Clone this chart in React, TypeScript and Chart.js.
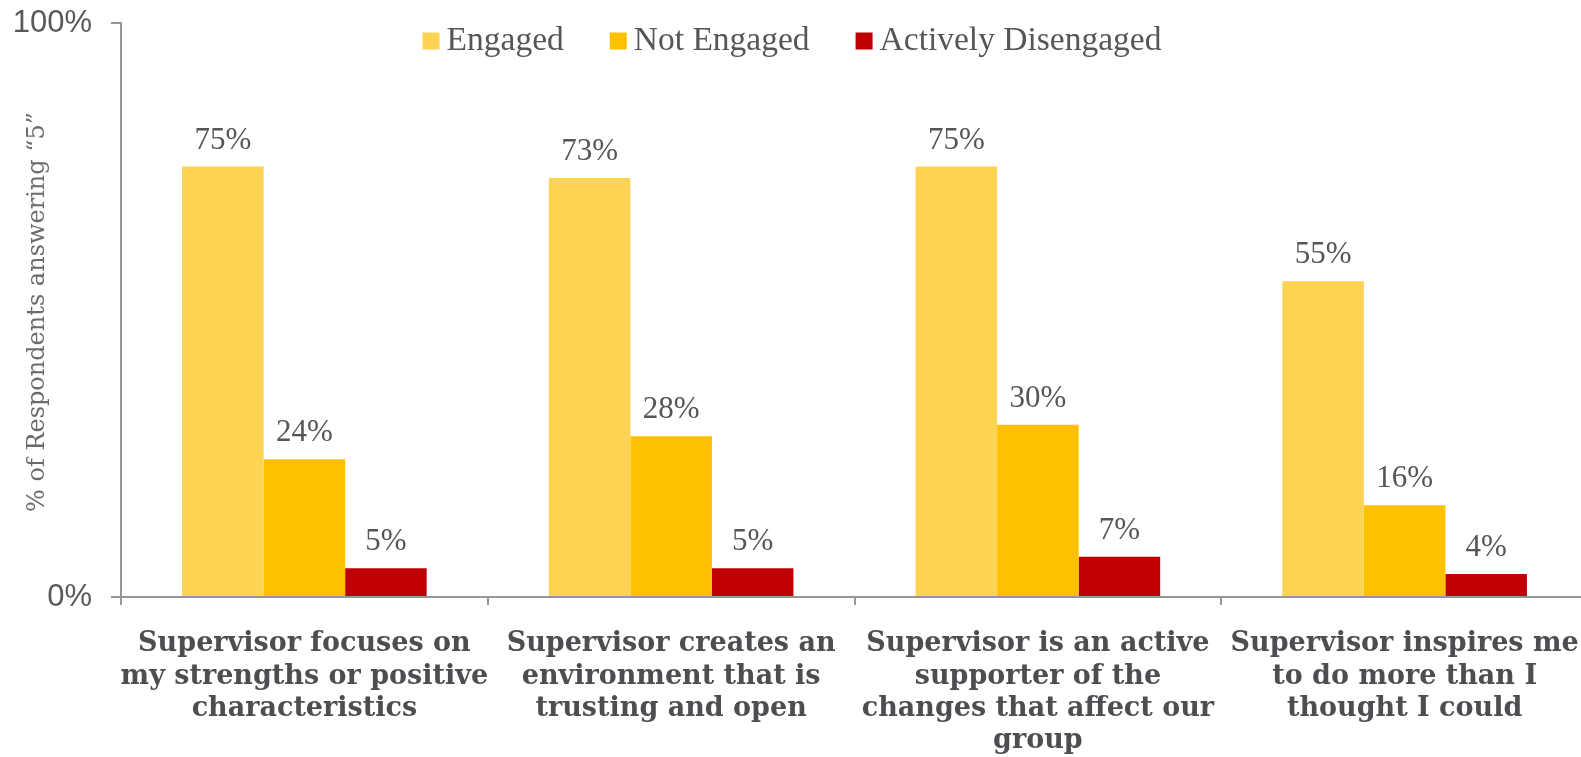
import { useEffect, useRef } from "react";
import { Chart, registerables } from "chart.js";

Chart.register(...registerables);

const categories: string[][] = [
  ["Supervisor focuses on", "my strengths or positive", "characteristics"],
  ["Supervisor creates an", "environment that is", "trusting and open"],
  ["Supervisor is an active", "supporter of the", "changes that affect our", "group"],
  ["Supervisor inspires me", "to do more than I", "thought I could"],
];
const seriesNames = ["Engaged", "Not Engaged", "Actively Disengaged"];
const engaged = [75, 73, 75, 55];
const notEngaged = [24, 28, 30, 16];
const activelyDisengaged = [5, 5, 7, 4];
const yTickValues = [0, 100];
const yTitle = "% of Respondents answering \u201C5\u201D";

const seriesColors = ["#FDD353", "#FFC000", "#C00000"];
const axisColor = "#969696";
const textColor = "#55565a";

const valueLabelPlugin = {
  id: "valueLabels",
  afterDatasetsDraw(chart: any) {
    const ctx = chart.ctx;
    ctx.save();
    ctx.font = '31px "Liberation Serif"';
    ctx.fillStyle = textColor;
    ctx.textAlign = "center";
    ctx.textBaseline = "alphabetic";
    chart.data.datasets.forEach((ds: any, di: number) => {
      const meta = chart.getDatasetMeta(di);
      meta.data.forEach((el: any, i: number) => {
        ctx.fillText(`${ds.data[i]}%`, el.x, el.y - 18);
      });
    });
    ctx.restore();
  },
};

const legendPlugin = {
  id: "customLegend",
  afterDraw(chart: any) {
    const ctx = chart.ctx;
    ctx.save();
    ctx.font = '33.5px "Liberation Serif"';
    const boxW = 17;
    const boxH = 17;
    const gap = 7;
    const spacing = 46;
    const items = chart.data.datasets.map((ds: any) => ({
      text: ds.label,
      color: ds.backgroundColor,
      w: ctx.measureText(ds.label).width,
    }));
    const total =
      items.reduce((s: number, it: any) => s + boxW + gap + it.w, 0) +
      spacing * (items.length - 1);
    let x = 792 - total / 2;
    const baseline = 49.5;
    items.forEach((it: any) => {
      ctx.fillStyle = it.color;
      ctx.fillRect(x, baseline - boxH, boxW, boxH);
      x += boxW + gap;
      ctx.fillStyle = textColor;
      ctx.textAlign = "left";
      ctx.textBaseline = "alphabetic";
      ctx.fillText(it.text, x, baseline);
      x += it.w + spacing;
    });
    ctx.restore();
  },
};

const yTitlePlugin = {
  id: "yTitle",
  afterDraw(chart: any) {
    const ctx = chart.ctx;
    ctx.save();
    ctx.font = '24px "DejaVu Serif"';
    (ctx as any).letterSpacing = "0px";
    const natural = ctx.measureText(yTitle).width;
    const target = 387;
    const extra = Math.max(0, (target - natural) / (yTitle.length - 1));
    (ctx as any).letterSpacing = `${extra}px`;
    ctx.translate(38, 512);
    ctx.rotate(-Math.PI / 2);
    ctx.fillStyle = "#6a6b6e";
    ctx.textAlign = "left";
    ctx.textBaseline = "middle";
    ctx.fillText(yTitle, 0, 0);
    ctx.restore();
  },
};

export default function App() {
  const ref = useRef<HTMLCanvasElement>(null);
  useEffect(() => {
    document.body.style.margin = "0";
    const seriesData = [engaged, notEngaged, activelyDisengaged];
    const chart = new Chart(ref.current as HTMLCanvasElement, {
      type: "bar",
      data: {
        labels: categories as any,
        datasets: seriesNames.map((name, i) => ({
          label: name,
          data: seriesData[i],
          backgroundColor: seriesColors[i],
          borderWidth: 0,
          categoryPercentage: 0.667,
          barPercentage: 1,
        })),
      },
      options: {
        responsive: false,
        animation: false,
        devicePixelRatio: 1,
        layout: { padding: { top: 23, right: 12, left: 0, bottom: 0 } },
        plugins: {
          legend: { display: false },
          tooltip: { enabled: false },
          title: { display: false },
        },
        scales: {
          x: {
            grid: {
              offset: true,
              drawOnChartArea: false,
              drawTicks: true,
              tickLength: 8,
              color: axisColor,
              lineWidth: 2,
            },
            border: { display: true, color: axisColor, width: 2 },
            ticks: {
              font: { family: "DejaVu Serif", size: 27, weight: "bold", lineHeight: 1.2 },
              color: "#4d4e52",
              padding: 23,
              maxRotation: 0,
              autoSkip: false,
            },
            afterFit: (s: any) => {
              s.height = 160;
              s.paddingLeft = 0;
              s.paddingRight = 0;
              s.paddingTop = 0;
              s.paddingBottom = 0;
            },
          },
          y: {
            min: 0,
            max: 100,
            grid: {
              drawOnChartArea: false,
              drawTicks: true,
              tickLength: 10,
              color: axisColor,
              lineWidth: 2,
            },
            border: { display: true, color: axisColor, width: 2 },
            ticks: {
              callback: (v: any) => `${v}%`,
              font: { family: "Liberation Sans", size: 31 },
              color: "#58595b",
              padding: 19,
            },
            afterBuildTicks: (s: any) => {
              s.ticks = yTickValues.map((v) => ({ value: v }));
            },
            afterFit: (s: any) => {
              s.width = 121;
              s.paddingTop = 0;
              s.paddingBottom = 0;
              s.paddingLeft = 0;
              s.paddingRight = 0;
            },
          },
        },
      } as any,
      plugins: [valueLabelPlugin, legendPlugin, yTitlePlugin],
    });
    return () => chart.destroy();
  }, []);

  return (
    <div
      style={{
        position: "fixed",
        left: 0,
        top: 0,
        width: 1581,
        height: 757,
        overflow: "hidden",
        background: "#ffffff",
      }}
    >
      <canvas
        ref={ref}
        width={1600}
        height={757}
        style={{ display: "block", width: 1600, height: 757 }}
      />
    </div>
  );
}
